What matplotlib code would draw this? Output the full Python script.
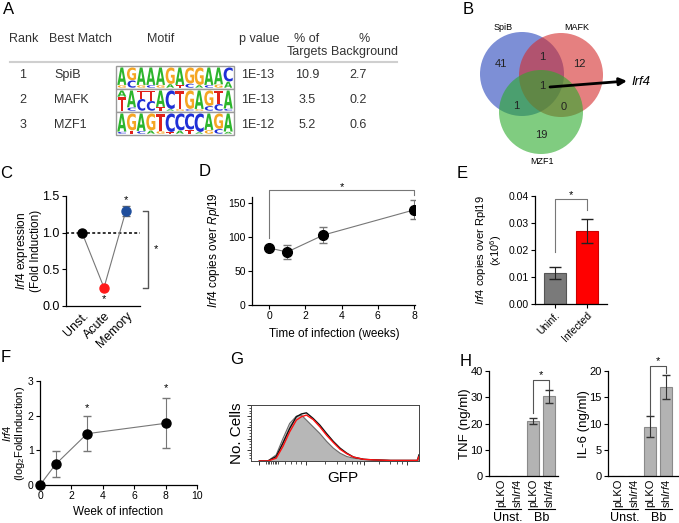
import matplotlib
matplotlib.use('Agg')
import matplotlib.pyplot as plt
from matplotlib.patches import Circle, PathPatch, Rectangle
from matplotlib.textpath import TextPath
from matplotlib.font_manager import FontProperties
from matplotlib.transforms import Affine2D, blended_transform_factory
from matplotlib.ticker import FixedLocator, NullFormatter

plt.rcParams['font.family'] = ['Liberation Sans', 'DejaVu Sans']
plt.rcParams['mathtext.fontset'] = 'custom'
plt.rcParams['mathtext.rm'] = 'Liberation Sans'
plt.rcParams['mathtext.it'] = 'Liberation Sans:italic'
plt.rcParams['mathtext.bf'] = 'Liberation Sans:bold'

# ---------------- data ----------------
# A: motif table
motif_rank = [1, 2, 3]
motif_match = ['SpiB', 'MAFK', 'MZF1']
motif_seq = ['AGAAAGAGGAAC', 'AATTACTGAGTA', 'AGAGTCCCCAGA']
motif_frac = [[0.85, 0.62, 0.85, 0.85, 0.85, 0.8, 0.85, 0.78, 0.85, 0.85, 0.82, 0.68],
              [0.3, 0.82, 0.4, 0.5, 0.8, 0.9, 0.9, 0.9, 0.9, 0.75, 0.65, 0.88],
              [0.88, 0.82, 0.85, 0.82, 0.85, 0.9, 0.82, 0.78, 0.9, 0.8, 0.75, 0.88]]
motif_sub = ['GCGCGATCACGA', 'TCCCTAGCGCCC', 'CTCAGTATAGCA']
motif_p = ['1E-13', '1E-13', '1E-12']
pct_targets = [10.9, 3.5, 5.2]
pct_background = [2.7, 0.2, 0.6]
base_colors = {'A': '#2db52d', 'C': '#1f2fd6', 'G': '#f5a623', 'T': '#e0221c'}

# B: Venn
venn_sets = ['SpiB', 'MAFK', 'MZF1']
venn_regions = ['SpiB', 'MAFK', 'MZF1', 'SpiB&MAFK', 'SpiB&MZF1', 'MAFK&MZF1', 'all']
venn_counts = [41, 12, 19, 1, 1, 0, 1]
venn_gene = 'Irf4'

# C
c_labels = ['Unst.', 'Acute', 'Memory']
c_vals = [1.0, 0.25, 1.3]
c_err = [0.0, 0.0, 0.07]
c_colors = ['black', '#ff1a1a', '#1f4e9c']

# D
d_weeks = [0, 1, 3, 8]
d_vals = [84, 78, 103, 140]
d_err = [2, 11, 12, 14]

# E
e_labels = ['Uninf.', 'Infected']
e_vals = [0.0115, 0.027]
e_err = [0.0021, 0.0043]
e_colors = ['#7a7a7a', '#ff0000']

# F
f_weeks = [0, 1, 3, 8]
f_vals = [0.0, 0.6, 1.48, 1.78]
f_err = [0.0, 0.38, 0.5, 0.72]

# G: histogram overlays
g_x = [5, 10, 15, 19, 23, 27, 30, 33, 37, 41, 45, 49, 53, 57, 61, 67, 73, 83, 93, 99, 100]
g_gray = [0, 0, 0.11, 0.40, 0.67, 0.80, 0.82, 0.73, 0.61, 0.49, 0.35, 0.23, 0.14, 0.08, 0.05, 0.03, 0.02, 0.01, 0.01, 0.01, 0.02]
g_black = [0, 0, 0.08, 0.32, 0.58, 0.79, 0.84, 0.86, 0.76, 0.64, 0.49, 0.35, 0.23, 0.14, 0.07, 0.03, 0.02, 0.01, 0.01, 0.01, 0.11]
g_red = [0, 0, 0.05, 0.26, 0.52, 0.73, 0.79, 0.82, 0.74, 0.61, 0.46, 0.33, 0.21, 0.13, 0.07, 0.03, 0.02, 0.01, 0.01, 0.01, 0.08]

# H
h_labels = ['pLKO', 'sh$\\mathit{Irf4}$', 'pLKO', 'sh$\\mathit{Irf4}$']
h_groups = ['Unst.', 'Bb']
tnf_vals = [0, 0, 21.0, 30.3]
tnf_err = [0, 0, 1.2, 2.6]
il6_vals = [0, 0, 9.4, 17.0]
il6_err = [0, 0, 2.0, 2.3]

# ---------------- figure ----------------
W, H = 679, 523
fig = plt.figure(figsize=(6.79, 5.23), dpi=100)


def box(l, t, r, b):
    return fig.add_axes([l / W, 1 - b / H, (r - l) / W, (b - t) / H])


def T(x, y, s, **kw):
    kw.setdefault('ha', 'center')
    kw.setdefault('va', 'center')
    fig.text(x / W, 1 - y / H, s, **kw)


ov = fig.add_axes([0, 0, 1, 1])
ov.set_xlim(0, W)
ov.set_ylim(H, 0)
ov.axis('off')

# panel letters
for lab, (x, y) in zip('ABCDEFGH', [(9, 10), (468, 9), (6, 173), (205, 172), (462, 173),
                                  (6, 358), (237, 359), (466, 362)]):
    T(x, y, lab, fontsize=12)

# ---------------- A: table ----------------
hs = 9
T(24, 39, 'Rank', fontsize=hs, color='#333')
T(49, 39, 'Best Match', fontsize=hs, ha='left', color='#333')
T(161, 39, 'Motif', fontsize=hs, color='#333')
T(259, 39, 'p value', fontsize=hs, color='#333')
T(307, 39, '% of', fontsize=hs, color='#333')
T(307, 52, 'Targets', fontsize=hs, color='#333')
T(364, 39, '%', fontsize=hs, color='#333')
T(364, 52, 'Background', fontsize=hs, color='#333')
ov.plot([10, 397], [62, 62], color='#cfcfcf', lw=1.5)

fp = FontProperties(family='DejaVu Sans', weight='bold')


def letter(ch, x0, yb, w, h):
    if h <= 0.3:
        return
    tp = TextPath((0, 0), ch, size=1, prop=fp)
    bb = tp.get_extents()
    tr = Affine2D().translate(-bb.x0, -bb.y0).scale(w / bb.width, -h / bb.height).translate(x0, yb)
    ov.add_patch(PathPatch(tr.transform_path(tp), facecolor=base_colors[ch], lw=0))


row_y = [75, 100, 125]
row_top = [66, 89, 112]
row_bot = [89, 112, 135]
bx0, bx1 = 116, 234
for i in range(3):
    T(23, row_y[i], str(motif_rank[i]), fontsize=hs, color='#333')
    T(54, row_y[i], motif_match[i], fontsize=hs, ha='left', color='#333')
    T(258, row_y[i], motif_p[i], fontsize=hs, color='#333')
    T(307, row_y[i], f'{pct_targets[i]}', fontsize=hs, color='#333')
    T(358, row_y[i], f'{pct_background[i]}', fontsize=hs, color='#333')
    ov.add_patch(Rectangle((bx0, row_top[i]), bx1 - bx0, row_bot[i] - row_top[i],
                           facecolor='white', edgecolor='#9a9a9a', lw=1))
    n = len(motif_seq[i])
    cw = (bx1 - bx0 - 2) / n
    hh = row_bot[i] - row_top[i] - 2.5
    for j, ch in enumerate(motif_seq[i]):
        x0 = bx0 + 1 + j * cw + 0.3
        fr = motif_frac[i][j]
        top = row_top[i] + 1.5
        letter(ch, x0, top + fr * hh, cw - 0.6, fr * hh)
        sub = motif_sub[i][j]
        sh = (0.97 - fr) * hh
        letter(sub, x0 + 0.5, top + fr * hh + sh + 0.3, cw - 1.6, sh)

# ---------------- B: Venn ----------------
circ = [((522, 74), '#2644bb'), ((561, 75), '#d42b2b'), ((541, 112), '#2baa2b')]
for (c, col) in circ:
    ov.add_patch(Circle(c, 42, facecolor=col, alpha=0.6, lw=0))
for name, (x, y) in zip(venn_sets, [(503, 27), (577, 27), (542, 162)]):
    T(x, y, name, fontsize=6.5)
for cnt, (x, y) in zip(venn_counts, [(501, 64), (579, 64), (541, 135), (542, 57),
                                     (516, 106), (564, 107), (542, 86)]):
    T(x, y, str(cnt), fontsize=8, color='#222')
ov.annotate('', xy=(627, 81), xytext=(550, 87),
            arrowprops=dict(arrowstyle='-|>', lw=2, color='black', mutation_scale=11,
                            shrinkA=0, shrinkB=0))
T(631, 82, venn_gene, fontsize=9.5, style='italic', ha='left')


def style(ax, fs):
    ax.spines['top'].set_visible(False)
    ax.spines['right'].set_visible(False)
    ax.tick_params(labelsize=fs, length=3, width=0.8, pad=1.5)
    for s in ax.spines.values():
        s.set_linewidth(0.9)


# ---------------- C ----------------
axC = box(66, 196, 140, 306)
xs = list(range(len(c_vals)))
axC.plot(xs, c_vals, color='#777', lw=0.8, zorder=2)
axC.axhline(1.0, ls=(0, (1.5, 1.2)), color='#333', lw=1.4, zorder=1)
axC.errorbar(xs, c_vals, yerr=c_err, fmt='none', ecolor='#666', capsize=3, lw=0.8, zorder=2)
for x, v, col in zip(xs, c_vals, c_colors):
    axC.plot(x, v, 'o', color=col, ms=6.5, zorder=3, clip_on=False)
axC.set_xlim(-0.73, 2.64)
axC.set_ylim(0, 1.5)
axC.set_yticks([0, 0.5, 1.0, 1.5])
axC.set_xticks(xs)
style(axC, 9)
axC.set_xticklabels(c_labels, rotation=45, ha='right', rotation_mode='anchor')
axC.tick_params(axis='x', length=0, pad=3)
axC.plot([2.77, 3.0, 3.0, 2.77], [1.3, 1.3, 0.25, 0.25], color='#555', lw=1, clip_on=False)
axC.text(3.36, 0.78, '*', fontsize=8, ha='center', va='center')
axC.text(2, 1.44, '*', fontsize=8, ha='center', va='center')
axC.text(1, 0.1, '*', fontsize=8, ha='center', va='center')
T(28, 251, '$\\mathit{Irf4}$ expression\n(Fold Induction)', fontsize=8.5, rotation=90,
  linespacing=1.05)

# ---------------- D ----------------
axD = box(252, 197, 415, 305)
axD.plot(d_weeks, d_vals, color='#777', lw=0.8, zorder=2)
axD.errorbar(d_weeks, d_vals, yerr=d_err, fmt='none', ecolor='#777', capsize=3, lw=0.8)
axD.plot(d_weeks, d_vals, 'o', color='black', ms=7, zorder=3)
axD.set_xlim(-0.94, 8.05)
axD.set_ylim(0, 159)
axD.set_xticks([0, 2, 4, 6, 8])
axD.set_yticks([0, 50, 100, 150])
style(axD, 7.5)
axD.plot([0, 0, 8, 8], [98, 169, 169, 162], color='#777', lw=0.8, clip_on=False)
axD.text(4, 174, '*', fontsize=8, ha='center', va='center')
T(334, 334, 'Time of infection (weeks)', fontsize=8.5)
T(214, 250, '$\\mathit{Irf4}$ copies over $\\mathit{Rpl19}$', fontsize=8.5, rotation=90)

# ---------------- E ----------------
axE = box(535, 196, 607, 304)
ex = list(range(len(e_vals)))
axE.bar(ex, e_vals, width=0.66, color=e_colors, edgecolor=['#555', '#cc0000'], lw=0.8)
axE.errorbar(ex, e_vals, yerr=e_err, fmt='none', ecolor='#222', capsize=4, lw=0.8)
axE.set_xlim(-0.625, 1.625)
axE.set_ylim(0, 0.04)
axE.set_yticks([0, 0.01, 0.02, 0.03, 0.04])
axE.set_yticklabels(['0.00', '0.01', '0.02', '0.03', '0.04'])
axE.set_xticks(ex)
style(axE, 7.5)
axE.set_xticklabels(e_labels, rotation=45, ha='right', rotation_mode='anchor')
axE.plot([0, 0, 1, 1], [0.0193, 0.0389, 0.0389, 0.0348], color='#777', lw=0.8, clip_on=False)
axE.text(0.5, 0.0405, '*', fontsize=8, ha='center', va='center')
T(489, 250, '$\\mathit{Irf4}$ copies over Rpl19\n(x10$^6$)', fontsize=8, rotation=90,
  linespacing=1.1)

# ---------------- F ----------------
axF = box(40, 381, 197, 485)
axF.plot(f_weeks, f_vals, color='#777', lw=0.8, zorder=2)
axF.errorbar(f_weeks, f_vals, yerr=f_err, fmt='none', ecolor='#777', capsize=3, lw=0.8)
axF.plot(f_weeks, f_vals, 'o', color='black', ms=6.5, zorder=3, clip_on=False)
axF.set_xlim(0, 10)
axF.set_ylim(0, 3)
axF.set_xticks([0, 2, 4, 6, 8, 10])
axF.set_yticks([0, 1, 2, 3])
style(axF, 7.5)
axF.text(3, 2.22, '*', fontsize=8, ha='center', va='center')
axF.text(8, 2.8, '*', fontsize=8, ha='center', va='center')
T(118, 512, 'Week of infection', fontsize=8.5)
T(14, 433, '$\\mathit{Irf4}$\n(log$_2$FoldInduction)', fontsize=8, rotation=90,
  linespacing=0.95)

# ---------------- G ----------------
axG = box(251, 405, 419, 461)
axG.fill_between(g_x, g_gray, color='#b7b7b7', lw=0)
axG.plot(g_x, g_gray, color='#6a6a6a', lw=0.8)
axG.plot(g_x, g_black, color='#111', lw=1.0)
axG.plot(g_x, g_red, color='#ff1010', lw=1.0)
axG.set_xlim(0, 100)
axG.set_ylim(0, 1)
axG.xaxis.set_major_locator(FixedLocator([5, 33, 67, 93]))
axG.xaxis.set_minor_locator(FixedLocator([9, 10, 11, 12, 13, 14, 15, 16, 20, 24, 27, 30,
                                          44, 51, 56, 60, 63, 65, 76, 83, 87, 90]))
axG.yaxis.set_major_locator(FixedLocator([0.2, 0.4, 0.6, 0.8, 1.0]))
axG.yaxis.set_minor_locator(FixedLocator([0.05, 0.1, 0.15, 0.25, 0.3, 0.35, 0.45, 0.5,
                                          0.55, 0.65, 0.7, 0.75, 0.85, 0.9, 0.95]))
axG.xaxis.set_major_formatter(NullFormatter())
axG.yaxis.set_major_formatter(NullFormatter())
axG.tick_params(which='major', length=3, width=0.7, color='#333')
axG.tick_params(which='minor', length=1.8, width=0.6, color='#333')
for s in axG.spines.values():
    s.set_linewidth(0.7)
    s.set_color('#444')
T(343, 478, 'GFP', fontsize=11)
T(237, 433, 'No. Cells', fontsize=11, rotation=90)

# ---------------- H ----------------
def hpanel(ax, vals, errs, ylim, yt, ylabel, lab_x, brk, star_y):
    hx = list(range(len(vals)))
    ax.bar(hx, vals, width=0.75, color='#b3b3b3', edgecolor='#8a8a8a', lw=0.8)
    ax.errorbar(hx[2:], vals[2:], yerr=errs[2:], fmt='none', ecolor='#333', capsize=3, lw=0.8)
    ax.set_ylim(*ylim)
    ax.set_yticks(yt)
    ax.set_xticks(hx)
    style(ax, 8)
    ax.set_xticklabels(h_labels, rotation=90, fontsize=8, va='top')
    ax.tick_params(axis='x', length=0, pad=2)
    ax.plot([2, 2, 3, 3], brk, color='#555', lw=0.8, clip_on=False)
    ax.text(2.5, star_y, '*', fontsize=8, ha='center', va='center')
    tr = blended_transform_factory(ax.transData, ax.transAxes)
    for (a, b), g, cx in zip([(-0.38, 1.22), (1.68, 3.4)], h_groups, [0.45, 2.55]):
        ax.plot([a, b], [-0.315, -0.315], color='black', lw=0.8, transform=tr, clip_on=False)
        ax.text(cx, -0.4, g, fontsize=9, ha='center', va='center', transform=tr)
    T(lab_x, 424, ylabel, fontsize=9.5, rotation=90)


axH1 = box(489, 371, 558, 476)
axH1.set_xlim(-0.75, 3.56)
hpanel(axH1, tnf_vals, tnf_err, (0, 40), [0, 10, 20, 30, 40], 'TNF (ng/ml)', 465,
       [24, 36.6, 36.6, 33], 38.6)
axH2 = box(608, 371, 681, 476)
axH2.set_xlim(-0.625, 3.94)
hpanel(axH2, il6_vals, il6_err, (0, 20), [0, 5, 10, 15, 20], 'IL-6 (ng/ml)', 584,
       [11.6, 20.9, 20.9, 19.6], 21.8)

fig.savefig('out.png', dpi=100)
